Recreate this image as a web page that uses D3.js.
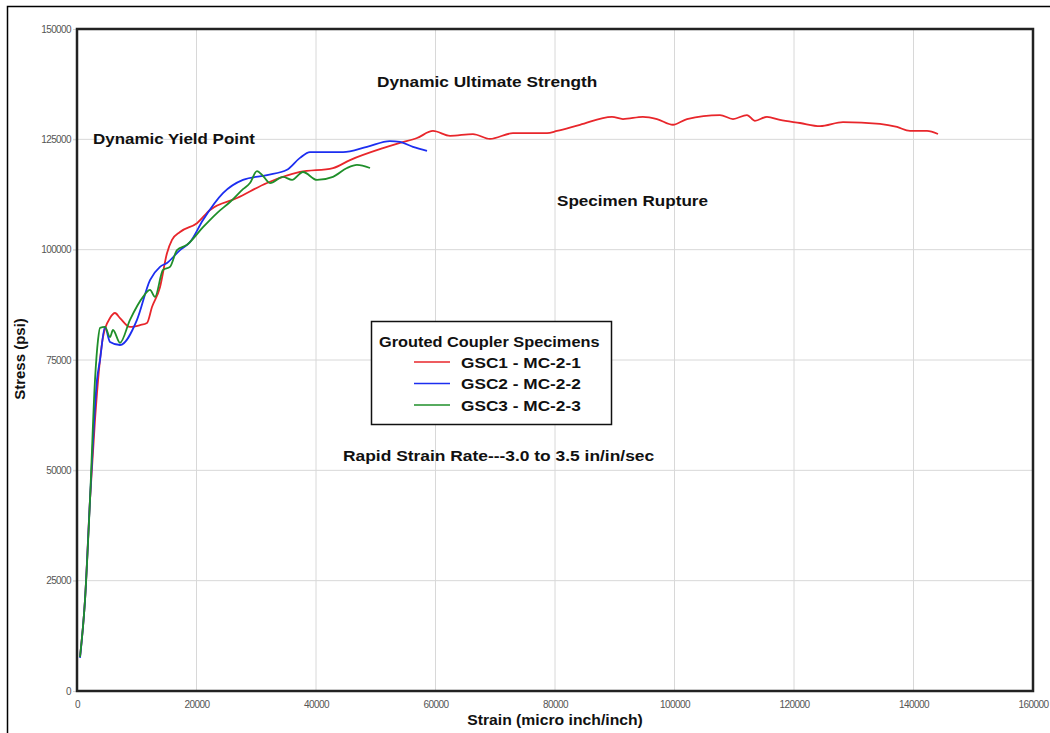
<!DOCTYPE html>
<html><head><meta charset="utf-8">
<script src="https://cdn.jsdelivr.net/npm/d3@7"></script>
<style>body{margin:0;background:#fff}svg{display:block}</style>
</head><body>
<svg id="c" width="1050" height="733"></svg>
<script>
const xTicks = [0,20000,40000,60000,80000,100000,120000,140000,160000];
const yTicks = [0,25000,50000,75000,100000,125000,150000];
const seriesNames = ["GSC1 - MC-2-1","GSC2 - MC-2-2","GSC3 - MC-2-3"];
const seriesColors = ["#e8262b","#1c2ef0","#1f8f2a"];
const gsc1 = [[502,7700],[1339,20600],[2176,43300],[3012,61400],[3849,75000],[4351,80200],[5523,84500],[6360,85650],[7196,84500],[8870,82500],[10540,82900],[11715,83400],[12550,87000],[13890,91500],[15060,99200],[15900,102200],[17240,104000],[20080,106000],[22260,109000],[26780,111700],[31800,115100],[37320,117600],[42840,118500],[45690,120300],[51210,123000],[54060,124200],[56900,125300],[59580,126900],[62430,125800],[66270,126200],[69120,125100],[72970,126400],[78660,126400],[80330,126900],[84180,128300],[89540,130100],[91380,129600],[94720,130100],[97070,129600],[99750,128300],[102090,129600],[107610,130500],[109790,129600],[112130,130500],[113470,129200],[115480,130100],[117650,129400],[121000,128700],[124350,128000],[128200,128900],[134390,128500],[137240,127800],[139410,126900],[142260,126900],[144100,126200]];
const gsc2 = [[502,7500],[1339,20600],[2176,43300],[3347,70500],[3849,75000],[4686,82500],[5523,79100],[7196,78400],[10040,84100],[12220,93100],[13890,96100],[15060,97000],[17240,99900],[18910,101700],[21090,106700],[24430,112800],[27780,115800],[31800,116900],[35150,118100],[37320,120800],[38990,122100],[44520,122100],[48530,123300],[52380,124600],[54060,124400],[56230,123300],[58580,122400]];
const gsc3 = [[502,7700],[1339,20600],[2176,43300],[3012,70500],[3515,79500],[3849,82300],[4686,82500],[5523,80200],[6025,81800],[7196,78900],[8870,84100],[11050,89300],[12220,90900],[13050,89300],[14390,95400],[15560,96100],[16740,99900],[18410,101100],[21090,105100],[23430,108300],[25610,110800],[27780,113700],[28950,115100],[30120,117800],[31130,116700],[32300,115100],[34480,116500],[35990,115800],[37820,117600],[40170,115800],[42840,116500],[45190,118500],[46860,119200],[49040,118500]];
const series = [gsc1,gsc2,gsc3];

const svg = d3.select("#c");
const L=77,T=29,R=1033,B=691;
const x = d3.scaleLinear().domain([0,160000]).range([L,R]);
const y = d3.scaleLinear().domain([0,150000]).range([B,T]);

// outer border
svg.append("rect").attr("x",7.5).attr("y",6.5).attr("width",1060).attr("height",760)
  .attr("fill","none").attr("stroke","#000").attr("stroke-width",1.5);

// grid
svg.append("g").selectAll("line").data(xTicks.slice(1,-1)).join("line")
  .attr("x1",d=>x(d)).attr("x2",d=>x(d)).attr("y1",T).attr("y2",B)
  .attr("stroke","#d8d8d8").attr("stroke-width",1);
svg.append("g").selectAll("line").data(yTicks.slice(1,-1)).join("line")
  .attr("x1",L-4).attr("x2",R).attr("y1",d=>y(d)).attr("y2",d=>y(d))
  .attr("stroke","#d8d8d8").attr("stroke-width",1);

// axes
const xa = svg.append("g").attr("transform",`translate(0,${B})`)
  .call(d3.axisBottom(x).tickValues(xTicks).tickFormat(d=>String(d)).tickSize(0).tickPadding(10));
const ya = svg.append("g").attr("transform",`translate(${L},0)`)
  .call(d3.axisLeft(y).tickValues(yTicks).tickFormat(d=>String(d)).tickSize(4).tickPadding(2));
[xa,ya].forEach(a=>{a.select(".domain").remove();
  a.selectAll("text").attr("font-family","Liberation Sans, Arial, sans-serif").attr("font-size",10).attr("fill","#555").attr("letter-spacing","-0.6");
  a.selectAll("line").attr("stroke","#d8d8d8");});

// lines
const line = d3.line().x(d=>x(d[0])).y(d=>y(d[1])).curve(d3.curveMonotoneX);
series.forEach((s,i)=>{
  svg.append("path").datum(s).attr("d",line).attr("fill","none")
    .attr("stroke",seriesColors[i]).attr("stroke-width",1.8);
});

// frame
svg.append("rect").attr("x",L).attr("y",T).attr("width",R-L).attr("height",B-T)
  .attr("fill","none").attr("stroke","#222").attr("stroke-width",2.5);

const F = "Liberation Sans, Arial, sans-serif";
function txt(t,xx,yy,opt={}){
  const sx = opt.sx||1.14;
  return svg.append("text").text(t)
    .attr("transform",`translate(${xx},${yy}) scale(${sx},1)`)
    .attr("font-family",F).attr("font-weight","bold").attr("font-size",opt.size||15)
    .attr("text-anchor",opt.anchor||"start").attr("fill","#111");
}
txt("Dynamic Ultimate Strength",377,87,{sx:1.15});
txt("Dynamic Yield Point",93,144,{sx:1.13});
txt("Specimen Rupture",557,206,{sx:1.14});
txt("Rapid Strain Rate---3.0 to 3.5 in/in/sec",343,461,{sx:1.16});
txt("Strain (micro inch/inch)",555,725,{anchor:"middle",sx:1.05});
svg.append("text").text("Stress (psi)").attr("transform","translate(25,359) rotate(-90)")
  .attr("font-family",F).attr("font-weight","bold").attr("font-size",15).attr("text-anchor","middle").attr("fill","#111");

// legend
const lg = svg.append("g");
lg.append("rect").attr("x",371.5).attr("y",321.5).attr("width",240).attr("height",103)
  .attr("fill","#fff").attr("stroke","#111").attr("stroke-width",1.5);
txt("Grouted Coupler Specimens",379,347,{sx:1.09});
seriesNames.forEach((n,i)=>{
  const yy = 362 + i*21.5;
  lg.append("line").attr("x1",414).attr("x2",450).attr("y1",yy).attr("y2",yy)
    .attr("stroke",seriesColors[i]).attr("stroke-width",1.6);
  txt(n,461,yy+5.5,{sx:1.15});
});
</script>
</body></html>
